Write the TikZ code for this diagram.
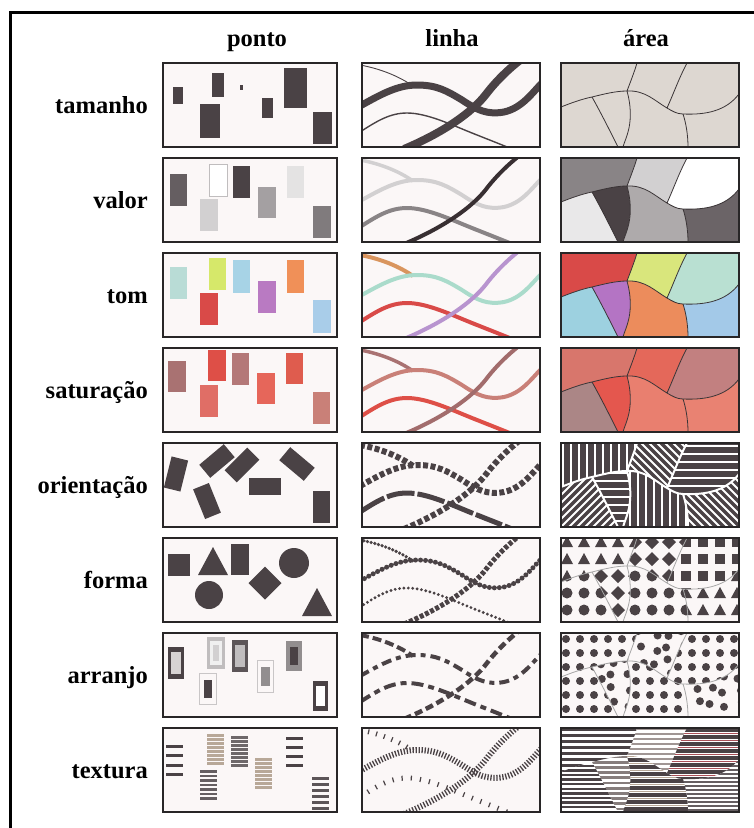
\documentclass[tikz,border=0pt]{standalone}
\usepackage{fontspec}
\setmainfont{Liberation Serif}
\usetikzlibrary{math}
\definecolor{paper}{RGB}{251,247,247}
\definecolor{markdark}{RGB}{74,66,69}
\definecolor{framegrey}{RGB}{40,38,39}
\definecolor{beige}{RGB}{221,215,209}
\definecolor{bndcol}{RGB}{58,52,54}
\definecolor{tpA}{RGB}{185,220,214}
\definecolor{tpB}{RGB}{214,232,106}
\definecolor{tpC}{RGB}{217,74,72}
\definecolor{tpD}{RGB}{167,211,230}
\definecolor{tpE}{RGB}{185,122,194}
\definecolor{tpF}{RGB}{240,144,88}
\definecolor{tpG}{RGB}{169,205,233}
\definecolor{spA}{RGB}{169,114,114}
\definecolor{spB}{RGB}{222,79,71}
\definecolor{spC}{RGB}{224,110,102}
\definecolor{spD}{RGB}{180,120,120}
\definecolor{spE}{RGB}{230,102,90}
\definecolor{spF}{RGB}{223,92,78}
\definecolor{spG}{RGB}{201,128,120}
\definecolor{taB}{RGB}{217,230,124}
\definecolor{taC}{RGB}{185,224,210}
\definecolor{taD}{RGB}{157,209,224}
\definecolor{taE}{RGB}{180,116,196}
\definecolor{taF}{RGB}{236,140,92}
\definecolor{taG}{RGB}{163,201,232}
\definecolor{saA}{RGB}{216,118,108}
\definecolor{saB}{RGB}{228,104,90}
\definecolor{saC}{RGB}{194,128,128}
\definecolor{saD}{RGB}{171,134,134}
\definecolor{saE}{RGB}{228,87,78}
\definecolor{saF}{RGB}{233,127,111}
\definecolor{saG}{RGB}{233,130,114}
\definecolor{lnorange}{RGB}{217,149,94}
\definecolor{lnteal}{RGB}{170,219,203}
\definecolor{lnpurple}{RGB}{184,148,207}
\definecolor{texgrey}{RGB}{160,150,148}
\definecolor{texlight}{RGB}{184,168,152}
\definecolor{texred}{RGB}{170,80,88}

% the four curves of the line column
\newcommand{\lnS}{(-2,2) .. controls (20,6) and (38,14) .. (51,23)}
\newcommand{\lnW}{(-2,43) .. controls (18,32) and (35,22) .. (55,22) .. controls (75,22) and (85,28) .. (100,37) .. controls (115,47) and (125,52) .. (142,49) .. controls (160,45) and (170,30) .. (180,20)}
\newcommand{\lnM}{(-2,69) .. controls (15,58) and (28,50) .. (45,50) .. controls (65,50) and (90,62) .. (110,70) .. controls (125,76) and (138,81) .. (150,86)}
\newcommand{\lnD}{(42,86) .. controls (80,70) and (110,50) .. (125,30) .. controls (135,17) and (148,5) .. (157,-2)}
% borders and regions of the area column
\newcommand{\bdL}{(0,44) .. controls (10,40) and (21,36) .. (31,34) .. controls (43,31) and (55,28) .. (66,28) .. controls (84,27) and (94,38) .. (106,45) .. controls (111,48) and (116,51) .. (122,51) .. controls (145,52) and (165,48) .. (178,31)}
\newcommand{\bdB}{(76,0) .. controls (73,10) and (69,20) .. (66,28) .. controls (70,42) and (70,55) .. (68,65) .. controls (66,74) and (63,80) .. (62,84)}
\newcommand{\bdC}{(31,34) .. controls (40,50) and (50,70) .. (57,84)}
\newcommand{\bdD}{(126,0) .. controls (118,15) and (112,32) .. (106,45)}
\newcommand{\bdE}{(122,51) .. controls (125,60) and (127,72) .. (127,84)}
\newcommand{\bdAll}{\bdL \bdB \bdC \bdD \bdE}
\newcommand{\rgA}{(0,0) -- (76,0) .. controls (73,10) and (69,20) .. (66,28) .. controls (55,28) and (43,31) .. (31,34) .. controls (21,36) and (10,40) .. (0,44) -- cycle}
\newcommand{\rgB}{(76,0) -- (126,0) .. controls (118,15) and (112,32) .. (106,45) .. controls (94,38) and (84,27) .. (66,28) .. controls (69,20) and (73,10) .. (76,0) -- cycle}
\newcommand{\rgC}{(126,0) -- (178,0) -- (178,31) .. controls (165,48) and (145,52) .. (122,51) .. controls (116,51) and (111,48) .. (106,45) .. controls (112,32) and (118,15) .. (126,0) -- cycle}
\newcommand{\rgD}{(0,44) .. controls (10,40) and (21,36) .. (31,34) .. controls (40,50) and (50,70) .. (57,84) -- (0,84) -- cycle}
\newcommand{\rgE}{(31,34) .. controls (43,31) and (55,28) .. (66,28) .. controls (70,42) and (70,55) .. (68,65) .. controls (66,74) and (63,80) .. (62,84) -- (57,84) .. controls (50,70) and (40,50) .. (31,34) -- cycle}
\newcommand{\rgF}{(66,28) .. controls (84,27) and (94,38) .. (106,45) .. controls (111,48) and (116,51) .. (122,51) .. controls (125,60) and (127,72) .. (127,84) -- (62,84) .. controls (63,80) and (66,74) .. (68,65) .. controls (70,55) and (70,42) .. (66,28) -- cycle}
\newcommand{\rgG}{(122,51) .. controls (145,52) and (165,48) .. (178,31) -- (178,84) -- (127,84) .. controls (127,72) and (125,60) .. (122,51) -- cycle}

\tikzset{
  rowlabel/.style={anchor=base east, inner sep=0pt, font=\fontsize{24.5}{28}\selectfont\bfseries},
  collabel/.style={anchor=base, inner sep=0pt, font=\fontsize{24.5}{28}\selectfont\bfseries},
  panel/.style={draw=framegrey, line width=1.5},
  bound/.style={draw=bndcol, line width=0.8},
  soft/.style={draw=black!35, line width=0.8},
  stripe/.style={draw=white, line width=2},
}

\begin{document}
\begin{tikzpicture}[x=1pt, y=-1pt]
\useasboundingbox (0,0) rectangle (754,828);
\fill[white] (0,0) rectangle (754,828);
\draw[line width=2.5] (10,12.5) -- (754,12.5);
\draw[line width=2.5] (10.5,11.3) -- (10.5,828);

% headers
\node[collabel] (ponto) at (257,46) {ponto};
\node[collabel] (linha) at (452,46) {linha};
\node[collabel] (area) at (646,46) {área};
\foreach \name/\txt [count=\r from 0] in {tamanho/tamanho, valor/valor, tom/tom, saturacao/saturação, orientacao/orientação, forma/forma, arranjo/arranjo, textura/textura}
  \node[rowlabel] (\name) at (148,{113+95*\r}) {\txt};

\foreach \r in {0,...,7} {
  \fill[paper] (163,{63+95*\r}) rectangle ++(174,84);
  \fill[paper] (362,{63+95*\r}) rectangle ++(178,84);
}

%% tamanho
\begin{scope}[shift={(163,63)}]
\fill[markdark] (10,24) rectangle (20,41);
\fill[markdark] (49,10) rectangle (61,34);
\fill[markdark] (37,41) rectangle (57,75);
\fill[markdark] (77,22) rectangle (80,27);
\fill[markdark] (99,35) rectangle (110,55);
\fill[markdark] (121,5) rectangle (144,45);
\fill[markdark] (150,49) rectangle (169,81);
\end{scope}
\begin{scope}[shift={(362,63)}]
\clip (0,0) rectangle (178,84);
\draw[markdark, line width=0.9] \lnS;
\draw[markdark, line width=1.4] \lnM;
\draw[markdark, line width=7] \lnW;
\draw[markdark, line width=8] \lnD;
\end{scope}
\begin{scope}[shift={(561,63)}]
\clip (0,0) rectangle (178,84);
\fill[beige] (0,0) rectangle (178,84);
\draw[bound] \bdAll;
\end{scope}

%% valor
\begin{scope}[shift={(163,158)}]
\fill[markdark!85] (7,16) rectangle (24,48);
\filldraw[fill=white, draw=markdark!35, line width=0.8] (46,6) rectangle (64,38);
\fill[markdark!25] (37,41) rectangle (55,73);
\fill[markdark] (70,8) rectangle (87,40);
\fill[markdark!50] (95,29) rectangle (113,60);
\fill[markdark!15] (124,8) rectangle (141,40);
\fill[markdark!70] (150,48) rectangle (168,80);
\end{scope}
\begin{scope}[shift={(362,158)}]
\clip (0,0) rectangle (178,84);
\draw[markdark!25, line width=3.5] \lnS;
\draw[markdark!25, line width=4] \lnW;
\draw[markdark!65, line width=4] \lnM;
\draw[markdark!110, line width=4] \lnD;
\end{scope}
\begin{scope}[shift={(561,158)}]
\clip (0,0) rectangle (178,84);
\fill[markdark!65] \rgA;
\fill[markdark!25] \rgB;
\fill[white] \rgC;
\fill[markdark!12] \rgD;
\fill[markdark] \rgE;
\fill[markdark!45] \rgF;
\fill[markdark!82] \rgG;
\draw[bound] \bdAll;
\end{scope}

%% tom
\begin{scope}[shift={(163,253)}]
\fill[tpA] (7,14) rectangle (24,46);
\fill[tpB] (46,5) rectangle (63,37);
\fill[tpC] (37,40) rectangle (55,72);
\fill[tpD] (70,7) rectangle (87,40);
\fill[tpE] (95,28) rectangle (113,60);
\fill[tpF] (124,7) rectangle (141,40);
\fill[tpG] (150,47) rectangle (168,80);
\end{scope}
\begin{scope}[shift={(362,253)}]
\clip (0,0) rectangle (178,84);
\draw[lnorange, line width=4] \lnS;
\draw[lnteal, line width=4] \lnW;
\draw[tpC, line width=4] \lnM;
\draw[lnpurple, line width=4] \lnD;
\end{scope}
\begin{scope}[shift={(561,253)}]
\clip (0,0) rectangle (178,84);
\fill[tpC] \rgA;
\fill[taB] \rgB;
\fill[taC] \rgC;
\fill[taD] \rgD;
\fill[taE] \rgE;
\fill[taF] \rgF;
\fill[taG] \rgG;
\draw[bound] \bdAll;
\end{scope}

%% saturacao
\begin{scope}[shift={(163,348)}]
\fill[spA] (5,13) rectangle (23,44);
\fill[spB] (45,2) rectangle (63,33);
\fill[spC] (37,37) rectangle (55,69);
\fill[spD] (69,5) rectangle (86,37);
\fill[spE] (94,25) rectangle (112,56);
\fill[spF] (123,5) rectangle (140,36);
\fill[spG] (150,44) rectangle (167,76);
\end{scope}
\begin{scope}[shift={(362,348)}]
\clip (0,0) rectangle (178,84);
\draw[spA, line width=3.5] \lnS;
\draw[spG, line width=4] \lnW;
\draw[spB, line width=4] \lnM;
\draw[spD!90!black, line width=4] \lnD;
\end{scope}
\begin{scope}[shift={(561,348)}]
\clip (0,0) rectangle (178,84);
\fill[saA] \rgA;
\fill[saB] \rgB;
\fill[saC] \rgC;
\fill[saD] \rgD;
\fill[saE] \rgE;
\fill[saF] \rgF;
\fill[saG] \rgG;
\draw[bound] \bdAll;
\end{scope}

%% orientacao
\begin{scope}[shift={(163,443)}]
\fill[markdark, rotate around={-14:(13,31)}] (4.5,15) rectangle ++(17,32);
\fill[markdark, rotate around={-50:(54,18)}] (45.5,2) rectangle ++(17,32);
\fill[markdark, rotate around={-45:(79,22)}] (70.5,6) rectangle ++(17,32);
\fill[markdark, rotate around={90:(102,43)}] (93.5,27) rectangle ++(17,32);
\fill[markdark, rotate around={50:(134,21)}] (125.5,5) rectangle ++(17,32);
\fill[markdark, rotate around={22:(44,58)}] (35.5,42) rectangle ++(17,32);
\fill[markdark] (149.5,48) rectangle ++(17,32);
\end{scope}
\begin{scope}[shift={(362,443)}]
\clip (0,0) rectangle (178,84);
\draw[markdark, line width=6, dash pattern=on 5 off 2.5] \lnS;
\draw[markdark, line width=6, dash pattern=on 5 off 2.5] \lnW;
\draw[markdark, line width=5, dash pattern=on 28 off 3] \lnM;
\draw[markdark, line width=6, dash pattern=on 5 off 2.5] \lnD;
\end{scope}
\begin{scope}[shift={(561,443)}]
\clip (0,0) rectangle (178,84);
\fill[markdark] (0,0) rectangle (178,84);
\begin{scope}
\clip \rgA;
\foreach \k in {0,...,22} \draw[stripe] ({2+8*\k},0) -- ({2+8*\k},84);
\end{scope}
\begin{scope}
\clip \rgB;
\foreach \k in {-12,...,23} \draw[stripe] ({8*\k},0) -- ({8*\k+84},84);
\end{scope}
\begin{scope}
\clip \rgC;
\foreach \k in {0,...,11} \draw[stripe] (0,{3+8*\k}) -- (178,{3+8*\k});
\end{scope}
\begin{scope}
\clip \rgD;
\foreach \k in {-12,...,23} \draw[stripe] ({8*\k},84) -- ({8*\k+84},0);
\end{scope}
\begin{scope}
\clip \rgE;
\foreach \k in {0,...,11} \draw[stripe] (0,{6+8*\k}) -- (178,{6+8*\k});
\end{scope}
\begin{scope}
\clip \rgF;
\foreach \k in {0,...,22} \draw[stripe] ({5+8*\k},0) -- ({5+8*\k},84);
\end{scope}
\begin{scope}
\clip \rgG;
\foreach \k in {-12,...,23} \draw[stripe] ({3+8*\k},0) -- ({3+8*\k+84},84);
\end{scope}
\draw[white, line width=2] \bdAll;
\end{scope}

%% forma
\begin{scope}[shift={(163,538)}]
\fill[markdark] (5,16) rectangle (27,38);
\fill[markdark] (35,37) -- (65,37) -- (50,9) -- cycle;
\fill[markdark] (68,6) rectangle (86,37);
\fill[markdark] (131,25) circle (15);
\fill[markdark] (46,57) circle (14);
\fill[markdark] (102,28.5) -- (118.5,45) -- (102,61.5) -- (85.5,45) -- cycle;
\fill[markdark] (139,78) -- (169,78) -- (154,50) -- cycle;
\end{scope}
\begin{scope}[shift={(362,538)}]
\clip (0,0) rectangle (178,84);
\draw[markdark, line width=3.6, line cap=round, dash pattern=on 0 off 3.8] \lnS;
\draw[markdark, line width=5, line cap=round, dash pattern=on 0 off 5] \lnW;
\draw[markdark, line width=3.2, line cap=round, dash pattern=on 0 off 4.4] \lnM;
\draw[markdark, line width=5, dash pattern=on 4 off 1.8] \lnD;
\end{scope}
\begin{scope}[shift={(561,538)}]
\clip (0,0) rectangle (178,84);
\fill[paper] (0,0) rectangle (178,84);
\begin{scope}
\clip \rgA;
\foreach \i in {0,...,10} \foreach \j in {0,...,4}
  \fill[markdark] ({17*\i},{9+17*\j}) -- ++(12,0) -- ++(-6,-11) -- cycle;
\end{scope}
\begin{scope}
\clip \rgB;
\foreach \i in {0,...,10} \foreach \j in {0,...,4}
  \fill[markdark] ({6+17*\i},{-3+17*\j}) -- ++(7,7) -- ++(-7,7) -- ++(-7,-7) -- cycle;
\end{scope}
\begin{scope}
\clip \rgC;
\foreach \i in {0,...,10} \foreach \j in {0,...,4}
  \fill[markdark] ({1+17*\i},{-1+17*\j}) rectangle ++(10,10);
\end{scope}
\begin{scope}
\clip \rgD;
\foreach \i in {0,...,10} \foreach \j in {0,...,4}
  \fill[markdark] ({6+17*\i},{4+17*\j}) circle (5.5);
\end{scope}
\begin{scope}
\clip \rgE;
\foreach \i in {0,...,10} \foreach \j in {0,...,4}
  \fill[markdark] ({6+17*\i},{-3+17*\j}) -- ++(7,7) -- ++(-7,7) -- ++(-7,-7) -- cycle;
\end{scope}
\begin{scope}
\clip \rgF;
\foreach \i in {0,...,10} \foreach \j in {0,...,4}
  \fill[markdark] ({6+17*\i},{4+17*\j}) circle (5.5);
\end{scope}
\begin{scope}
\clip \rgG;
\foreach \i in {0,...,10} \foreach \j in {0,...,4}
  \fill[markdark] ({17*\i},{9+17*\j}) -- ++(12,0) -- ++(-6,-11) -- cycle;
\end{scope}
\draw[soft] \bdAll;
\end{scope}

%% arranjo
\begin{scope}[shift={(163,633)}]
\fill[markdark] (5,14) rectangle (21,46);
\fill[paper!80!markdark] (8,19) rectangle (18,41);
\fill[markdark!35] (44,4) rectangle (62,36);
\fill[markdark!8] (47,8) rectangle (59,32);
\fill[markdark!25] (50,12) rectangle (56,28);
\fill[markdark!90] (69,7) rectangle (85,39);
\fill[markdark!35] (72,12) rectangle (82,34);
\draw[markdark!30, line width=1] (36.5,40.5) rectangle (53.5,71.5);
\fill[markdark] (41,47) rectangle (49,65);
\draw[markdark!30, line width=1] (94.5,27.5) rectangle (110.5,59.5);
\fill[markdark!60] (98,34) rectangle (107,53);
\fill[markdark!60] (123,8) rectangle (139,38);
\fill[markdark] (127,14) rectangle (135,32);
\fill[markdark] (150,48) rectangle (165,78);
\fill[white] (153,53) rectangle (162,73);
\end{scope}
\begin{scope}[shift={(362,633)}]
\clip (0,0) rectangle (178,84);
\draw[markdark, line width=4, dash pattern=on 9 off 4] \lnS;
\draw[markdark, line width=4, dash pattern=on 10 off 5 on 5 off 5] \lnW;
\draw[markdark, line width=4, dash pattern=on 12 off 5 on 6 off 5] \lnM;
\draw[markdark, line width=4.5, dash pattern=on 8 off 4] \lnD;
\end{scope}
\begin{scope}[shift={(561,633)}]
\clip (0,0) rectangle (178,84);
\fill[paper] (0,0) rectangle (178,84);
\foreach \reg in {\rgA,\rgC,\rgD,\rgF} {
  \begin{scope}
  \clip \reg;
  \foreach \i in {0,...,12} \foreach \j in {0,...,5}
    \fill[markdark] ({5+14*\i},{6+14*\j}) circle (4);
  \end{scope}
}
\foreach \reg in {\rgB,\rgE,\rgG} {
  \begin{scope}
  \clip \reg;
  \foreach \i in {0,...,12} \foreach \j in {0,...,5}
    \fill[markdark] ({10+14*\i+3*sin(130*\i+70*\j)},{1+14*\j+3*cos(110*\i+50*\j)}) circle (4);
  \end{scope}
}
\draw[soft] \bdAll;
\end{scope}

%% textura
\begin{scope}[shift={(163,728)}]
\foreach \y in {17,26,36,45} \fill[markdark] (3,\y) rectangle ++(17,3.2);
\foreach \y in {6,10,...,34} \fill[texlight] (44,\y) rectangle ++(17,2.6);
\foreach \y in {42,46.5,...,72} \fill[markdark!85] (37,\y) rectangle ++(17,2.8);
\foreach \y in {8,12,...,38} \fill[markdark!80] (68,\y) rectangle ++(17,2.8);
\foreach \y in {30,34,...,58} \fill[texlight] (92,\y) rectangle ++(17,2.6);
\foreach \y in {9,18,27,36} \fill[markdark] (123,\y) rectangle ++(17,3.2);
\foreach \y in {49,55,...,79} \fill[markdark!90] (149,\y) rectangle ++(17,3);
\end{scope}
\begin{scope}[shift={(362,728)}]
\clip (0,0) rectangle (178,84);
\draw[markdark, line width=5, dash pattern=on 1.2 off 7] \lnS;
\draw[markdark, line width=6, dash pattern=on 1.3 off 1.7] \lnW;
\draw[markdark, line width=5, dash pattern=on 1.2 off 8] \lnM;
\draw[markdark, line width=6, dash pattern=on 1.3 off 1.8] \lnD;
\end{scope}
\begin{scope}[shift={(561,728)}]
\clip (0,0) rectangle (178,84);
\fill[white] (0,0) rectangle (178,84);
\begin{scope}
\clip \rgA;
\foreach \k in {0,...,13} \draw[markdark, line width=3.4] (0,{1.5+6*\k}) -- (178,{1.5+6*\k});
\end{scope}
\begin{scope}
\clip \rgB;
\foreach \k in {0,...,16} \draw[texgrey, line width=2.8] (0,{1+5*\k}) -- (178,{1+5*\k});
\end{scope}
\begin{scope}
\clip \rgC;
\foreach \k in {0,...,11} {
  \draw[markdark, line width=3.8] (0,{2+7*\k}) -- (178,{2+7*\k});
  \draw[texred, line width=1.2] (0,{5.5+7*\k}) -- (178,{5.5+7*\k});
}
\end{scope}
\begin{scope}
\clip \rgD;
\foreach \k in {0,...,18} \draw[markdark, line width=2.5] (0,{1+4.6*\k}) -- (178,{1+4.6*\k});
\end{scope}
\begin{scope}
\clip \rgE;
\foreach \k in {0,...,16} \draw[texgrey!70!markdark, line width=2.8] (0,{3+5.2*\k}) -- (178,{3+5.2*\k});
\end{scope}
\begin{scope}
\clip \rgF;
\foreach \k in {0,...,12} {
  \draw[markdark, line width=3.5] (0,{4+7*\k}) -- (178,{4+7*\k});
  \draw[texlight, line width=1.4] (0,{7.5+7*\k}) -- (178,{7.5+7*\k});
}
\end{scope}
\begin{scope}
\clip \rgG;
\foreach \k in {0,...,20} \draw[markdark!85, line width=2] (0,{2+4*\k}) -- (178,{2+4*\k});
\end{scope}
\end{scope}

% frames
\foreach \r in {0,...,7} {
  \draw[panel] (163,{63+95*\r}) rectangle ++(174,84);
  \draw[panel] (362,{63+95*\r}) rectangle ++(178,84);
  \draw[panel] (561,{63+95*\r}) rectangle ++(178,84);
}
\end{tikzpicture}
\end{document}
